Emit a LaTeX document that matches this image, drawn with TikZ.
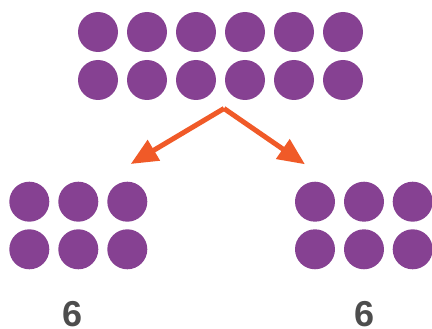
\documentclass[tikz,border=0pt]{standalone}
\usepackage{fontspec}
\setmainfont{Liberation Sans}
\usetikzlibrary{arrows.meta}
\definecolor{dotpurple}{RGB}{134,65,146}
\definecolor{arrorange}{RGB}{240,90,40}
\definecolor{numgray}{RGB}{77,77,77}
\begin{document}
\begin{tikzpicture}[x=1pt,y=-1pt,
  dot/.style={circle,fill=dotpurple,minimum size=40pt,inner sep=0pt},
  splitarrow/.style={draw=arrorange,line width=5pt,-{Triangle[length=27pt,width=23pt]}},
  countlabel/.style={text=numgray,font=\fontsize{36}{40}\selectfont\bfseries,inner sep=0pt,anchor=base}]
\useasboundingbox (0,0) rectangle (432,329);
% top group: 2 rows of 6
\foreach \i/\x in {1/98,2/147,3/196,4/245,5/294,6/343}{
  \node[dot] (t1\i) at (\x,32) {};
  \node[dot] (t2\i) at (\x,80) {};
}
% bottom left group
\foreach \i/\x in {1/29.3,2/78.3,3/127.3}{
  \node[dot] (l1\i) at (\x,201.7) {};
  \node[dot] (l2\i) at (\x,249.3) {};
}
% bottom right group
\foreach \i/\x in {1/315,2/364,3/412.7}{
  \node[dot] (r1\i) at (\x,201.7) {};
  \node[dot] (r2\i) at (\x,249.3) {};
}
\coordinate (apex) at (224,108.5);
\coordinate (ltip) at (130.7,164);
\coordinate (rtip) at (305,164.3);
\draw[splitarrow] (apex) -- (ltip);
\draw[splitarrow] (apex) -- (rtip);
\node[countlabel] (lnum) at (73,326.5) {6};
\node[countlabel] (rnum) at (364.5,326.5) {6};
\end{tikzpicture}
\end{document}
